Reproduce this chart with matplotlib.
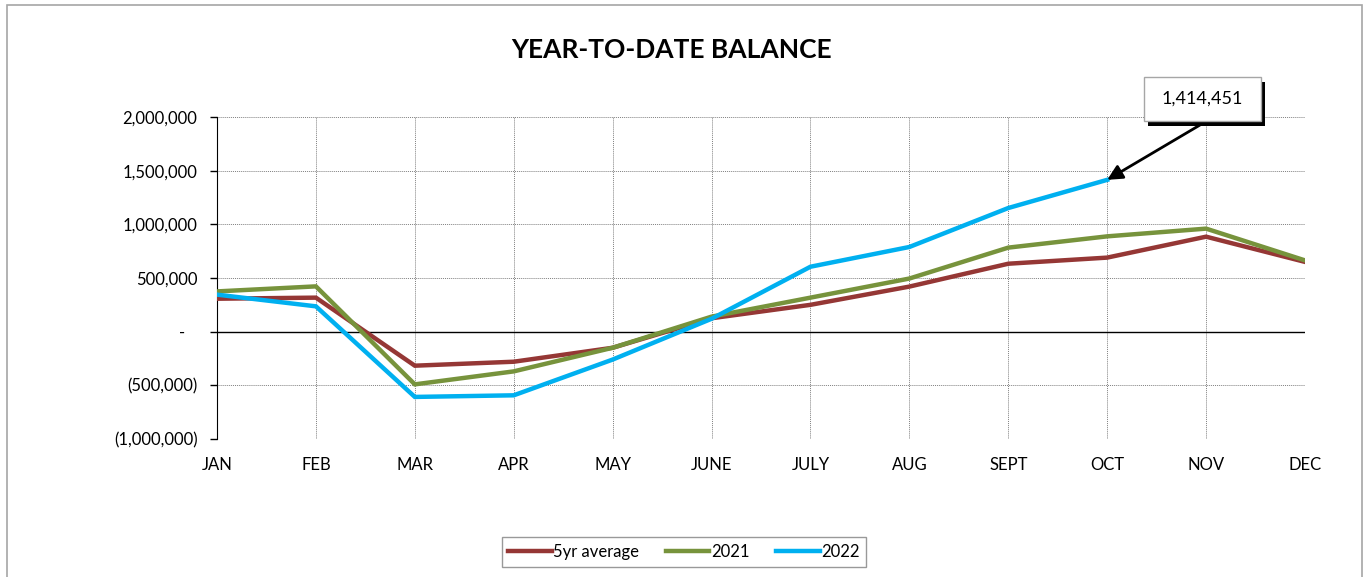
import matplotlib
matplotlib.use("Agg")
import matplotlib.pyplot as plt
from matplotlib.patches import Rectangle
from matplotlib.ticker import FuncFormatter, MultipleLocator

plt.rcParams['font.family'] = ['Lato', 'DejaVu Sans']

months = ["JAN", "FEB", "MAR", "APR", "MAY", "JUNE", "JULY", "AUG", "SEPT", "OCT", "NOV", "DEC"]
avg5 = [307000, 317000, -317000, -280000, -150000, 125000, 250000, 420000, 633000, 690000, 885000, 650000]
y2021 = [375000, 422000, -491000, -370000, -150000, 140000, 317000, 495000, 783000, 888000, 960000, 664000]
y2022 = [345000, 236000, -608000, -593000, -260000, 120000, 605000, 789000, 1152000, 1414451]
series_names = ["5yr average", "2021", "2022"]
colors = ["#953735", "#77933C", "#00B0F0"]
annot_value = 1414451

fig = plt.figure(figsize=(13.67, 5.77), dpi=100)
W, H = 1367, 577
def fx(px):
    return px / W
def fy(py):
    return 1 - py / H

# outer chart border
fig.patches.append(Rectangle((fx(7), -0.01), fx(1362 - 7), (577 - 5) / H + 0.01,
                             transform=fig.transFigure, fill=False, edgecolor="#A6A6A6", lw=1.2))

ax = fig.add_axes([fx(217), fy(439), fx(1305 - 217), (439 - 117) / H])
x = list(range(len(months)))
for vals, name, c in zip([avg5, y2021, y2022], series_names, colors):
    ax.plot(x[:len(vals)], vals, color=c, lw=3.2, label=name, solid_joinstyle="miter", zorder=3)

ax.set_xlim(0, len(months) - 1)
ax.set_ylim(-1000000, 2000000)
ax.yaxis.set_major_locator(MultipleLocator(500000))
def fmt(v, pos):
    if abs(v) < 1:
        return "-   "
    if v < 0:
        return "({:,.0f})".format(-v)
    return "{:,.0f}".format(v)
ax.yaxis.set_major_formatter(FuncFormatter(fmt))
ax.set_xticks(x)
ax.set_xticklabels(months)
ax.tick_params(axis="x", length=0, pad=13, labelsize=12)
ax.tick_params(axis="y", length=5, direction="out", width=1, pad=9, labelsize=12)
ax.grid(True, color="#808080", linestyle=(0, (1, 1)), lw=0.7)
for s in ["top", "right", "bottom"]:
    ax.spines[s].set_visible(False)
ax.spines["left"].set_color("black")
ax.axhline(0, color="black", lw=1, zorder=2)

fig.text(fx(672), fy(50), "YEAR-TO-DATE BALANCE", fontsize=19, fontweight="bold",
         ha="center", va="center")

# annotation: shadow, box, text, arrow
ax.add_patch(Rectangle((fx(1148), fy(126)), fx(117), 44 / H,
                       transform=fig.transFigure, fc="black", ec="none", zorder=4, clip_on=False))
ax.add_patch(Rectangle((fx(1144), fy(121)), fx(117), 44 / H,
                       transform=fig.transFigure, fc="white", ec="#A6A6A6", lw=1, zorder=5,
                       clip_on=False))
fig.text(fx(1202), fy(99), "{:,.0f}".format(annot_value), fontsize=13, ha="center", va="center",
         zorder=6)
ax.annotate("", xy=(9, annot_value), xytext=(fx(1200), fy(125)), textcoords="figure fraction",
            arrowprops=dict(arrowstyle="-|>,head_length=0.9,head_width=0.45", color="black", lw=2,
                            shrinkA=0, shrinkB=0),
            zorder=5, annotation_clip=False)

leg = fig.legend(loc="center", bbox_to_anchor=(fx(684), fy(552)), ncol=3, frameon=True,
                 fancybox=False, edgecolor="#808080", fontsize=12, handlelength=2.6,
                 handletextpad=0.1, columnspacing=1.6, borderpad=0.4)
leg.get_frame().set_linewidth(1)

fig.savefig("out.png", dpi=100)
